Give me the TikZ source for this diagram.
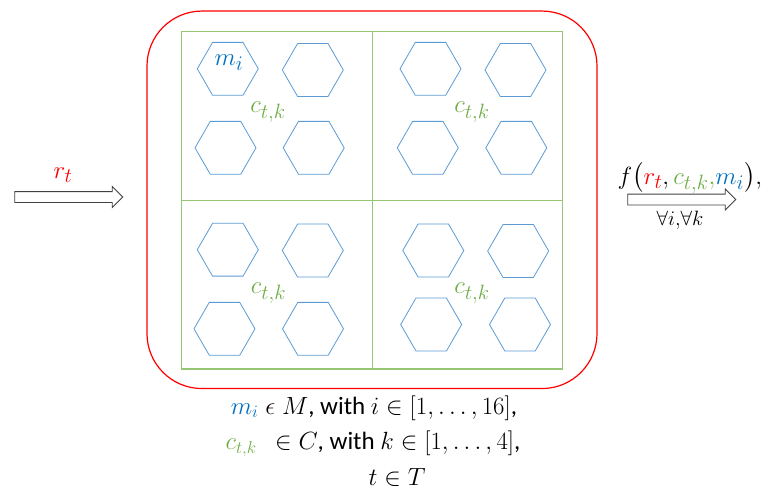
\documentclass[tikz,border=0pt]{standalone}
\usepackage{fontspec}
\setmainfont{Carlito}
\usepackage{amsmath}
\usepackage{xcolor}
\usepackage{tikz}
\usetikzlibrary{shapes,arrows,arrows.meta,positioning}

\definecolor{mblue}{RGB}{0,112,192}
\definecolor{hexblue}{RGB}{91,155,213}
\definecolor{cgreen}{RGB}{112,173,71}
\definecolor{gridgreen}{RGB}{150,198,115}
\definecolor{arrowgray}{RGB}{64,64,64}

\begin{document}
\begin{tikzpicture}
            [x=1pt, y=-1pt, font=\fontsize{28}{32}\selectfont,
             hexa/.style={draw=hexblue, regular polygon, regular polygon sides=6, minimum size=61pt, inner sep=0pt, line width=0.8pt},
             cell/.style={draw=gridgreen, rectangle, minimum width=190.5pt, minimum height=168.6pt, inner sep=0pt, line width=1.2pt},
             blockarrow/.style={draw=arrowgray, fill=white, single arrow, single arrow head extend=5pt, inner xsep=0pt, inner ysep=5pt, minimum height=108pt, line width=0.9pt}]
            \useasboundingbox (0,0) rectangle (777,490);

            % red frame and the four green cells
            \node[draw=red, rectangle, rounded corners=55pt, minimum width=450pt, minimum height=377.5pt, line width=1.2pt] (frame) at (372,199.8) {};
            \node[cell] (cellA) at (277,116) {};
            \node[cell] (cellB) at (467.5,116) {};
            \node[cell] (cellC) at (277,284.6) {};
            \node[cell] (cellD) at (467.5,284.6) {};

            % hexagons
            \node[hexa] (m1) at (227.8,68.8) {};
            \node[hexa] (m2) at (312.8,70) {};
            \node[hexa] (m3) at (225.5,147.8) {};
            \node[hexa] (m4) at (313.7,147.8) {};
            \node[hexa] (m5) at (430.5,68.8) {};
            \node[hexa] (m6) at (515.5,70) {};
            \node[hexa] (m7) at (427.8,147.8) {};
            \node[hexa] (m8) at (516.3,147.8) {};
            \node[hexa] (m9) at (227.8,249.7) {};
            \node[hexa] (m10) at (312.8,250.5) {};
            \node[hexa] (m11) at (224.5,328.8) {};
            \node[hexa] (m12) at (313,328.8) {};
            \node[hexa] (m13) at (433.3,250.5) {};
            \node[hexa] (m14) at (518.2,251) {};
            \node[hexa] (m15) at (431.2,324.5) {};
            \node[hexa] (m16) at (520,324.5) {};

            \node[text=mblue] (mlab) at (229,63) {$m_i$};
            \node[text=cgreen] (labA) at (268,112) {$c_{t,k}$};
            \node[text=cgreen] (labB) at (472,112) {$c_{t,k}$};
            \node[text=cgreen] (labC) at (268.5,293) {$c_{t,k}$};
            \node[text=cgreen] (labD) at (472,293) {$c_{t,k}$};

            % input and output
            \node[blockarrow] (inarrow) at (66,197) {};
            \node[blockarrow] (outarrow) at (679,199.5) {};
            \node[text=red] (rlab) at (63,175) {$r_t$};
            \node[anchor=base west] (flab) at (614,184) {$f\bigl(\textcolor{red}{r_t}, \textcolor{cgreen}{c_{t,k},} \textcolor{mblue}{m_i}\bigr),$};
            \node[font=\fontsize{21}{24}\selectfont] (qlab) at (680,220) {$\forall i{,}\forall k$};

            % sets
            \node[font=\fontsize{25}{30}\selectfont] (setm) at (374,408) {$\textcolor{mblue}{m_i} \mathrel{\epsilon} M$, with $i \in [1, \ldots, 16]$,};
            \node[font=\fontsize{25}{30}\selectfont] (setc) at (373,444) {$\textcolor{cgreen}{c_{t,k}}\ \ \in C$, with $k \in [1, \ldots, 4]$,};
            \node[font=\fontsize{25}{30}\selectfont] (sett) at (397,477) {$t \in T$};
        \end{tikzpicture}
\end{document}
